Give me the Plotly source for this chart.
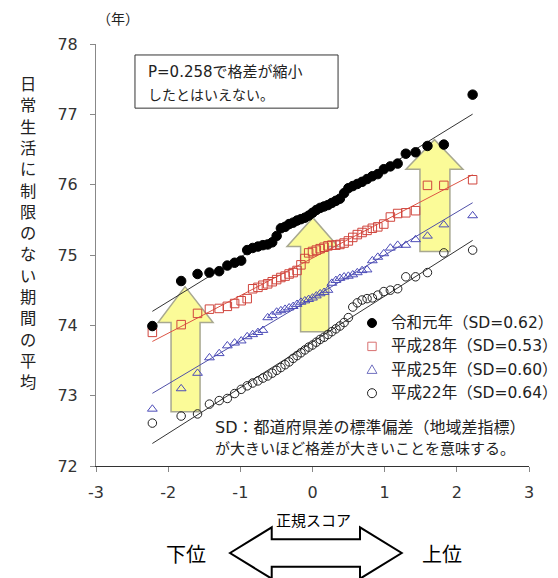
import numpy as np
import plotly.graph_objects as go

# normal scores (rank-based), shared by all four series
normal_score = [-2.219, -1.820, -1.593, -1.428, -1.293, -1.180, -1.079, -0.988, -0.905, -0.829,
                -0.756, -0.687, -0.621, -0.558, -0.497, -0.438, -0.380, -0.324, -0.268, -0.214,
                -0.160, -0.106, -0.053, 0.000, 0.053, 0.106, 0.160, 0.214, 0.268, 0.324,
                0.380, 0.438, 0.497, 0.558, 0.621, 0.687, 0.756, 0.829, 0.905, 0.988,
                1.079, 1.180, 1.293, 1.428, 1.593, 1.820, 2.219]

reiwa1 = [73.99, 74.63, 74.73, 74.75, 74.77, 74.85, 74.89, 74.92, 75.07, 75.10,
          75.12, 75.14, 75.15, 75.18, 75.27, 75.38, 75.40, 75.44, 75.46, 75.49,
          75.51, 75.53, 75.56, 75.60, 75.64, 75.67, 75.69, 75.71, 75.74, 75.77,
          75.80, 75.88, 75.95, 75.98, 76.01, 76.04, 76.08, 76.12, 76.15, 76.22,
          76.26, 76.30, 76.44, 76.46, 76.55, 76.57, 77.28]

heisei28 = [73.90, 74.01, 74.17, 74.23, 74.24, 74.27, 74.31, 74.35, 74.38, 74.52,
            74.54, 74.57, 74.59, 74.62, 74.65, 74.68, 74.70, 74.73, 74.75, 74.78,
            74.86, 74.95, 75.03, 75.05, 75.07, 75.09, 75.11, 75.13, 75.14, 75.14,
            75.15, 75.17, 75.20, 75.25, 75.29, 75.32, 75.35, 75.38, 75.40, 75.44,
            75.54, 75.59, 75.60, 75.63, 75.99, 75.99, 76.07]

heisei25 = [72.81, 73.10, 73.32, 73.54, 73.60, 73.71, 73.75, 73.78, 73.84, 73.87,
            73.90, 73.93, 74.11, 74.14, 74.19, 74.21, 74.23, 74.25, 74.27, 74.30,
            74.33, 74.35, 74.37, 74.39, 74.42, 74.45, 74.47, 74.50, 74.60, 74.64,
            74.67, 74.69, 74.70, 74.72, 74.75, 74.78, 74.79, 74.92, 74.97, 75.02,
            75.10, 75.14, 75.14, 75.22, 75.27, 75.43, 75.56]

heisei22 = [72.61, 72.71, 72.74, 72.88, 72.93, 72.96, 73.03, 73.09, 73.14, 73.18,
            73.21, 73.25, 73.28, 73.32, 73.36, 73.40, 73.44, 73.48, 73.53, 73.57,
            73.61, 73.65, 73.69, 73.72, 73.76, 73.80, 73.83, 73.87, 73.91, 73.95,
            73.99, 74.04, 74.11, 74.26, 74.32, 74.36, 74.38, 74.39, 74.43, 74.48,
            74.50, 74.52, 74.69, 74.69, 74.75, 75.03, 75.07]

series_names = ["令和元年（SD=0.62）", "平成28年（SD=0.53）", "平成25年（SD=0.60）", "平成22年（SD=0.64）"]
x_ticks = [-3, -2, -1, 0, 1, 2, 3]
x_tick_text = ["-3", "-2", "-1", "0", "1", "2", "3"]
y_ticks = [72, 73, 74, 75, 76, 77, 78]

JP = "DejaVu Sans, Noto Sans CJK JP"
JPO = "Noto Sans CJK JP"
NUM = "DejaVu Sans"

styles = [
    dict(values=reiwa1, name=series_names[0], symbol="circle", size=9.5, fill="#000000", edge="#000000", line="#333333"),
    dict(values=heisei28, name=series_names[1], symbol="square-open", size=8.5, fill="#D0453D", edge="#D0453D", line="#DD5545"),
    dict(values=heisei25, name=series_names[2], symbol="triangle-up-open", size=8.5, fill="#4B4BB8", edge="#4B4BB8", line="#5050A8"),
    dict(values=heisei22, name=series_names[3], symbol="circle-open", size=8.5, fill="#222222", edge="#222222", line="#333333"),
]

fig = go.Figure()

xs = np.array(normal_score)
# regression lines
for s in styles:
    ys = np.array(s["values"])
    b, a = np.polyfit(xs, ys, 1)
    lx = [xs.min(), xs.max()]
    fig.add_trace(go.Scatter(x=lx, y=[a + b * v for v in lx], mode="lines",
                             line=dict(color=s["line"], width=1), showlegend=False, hoverinfo="skip"))

# markers (drawn older first so 令和元年 is on top)
for s in reversed(styles):
    fig.add_trace(go.Scatter(x=normal_score, y=s["values"], mode="markers", name=s["name"],
                             showlegend=False,
                             marker=dict(symbol=s["symbol"], size=s["size"], color=s["fill"],
                                         line=dict(color=s["edge"], width=1))))

# yellow up-arrows (decoration)
def up_arrow(cx_l, cx_r, hx_l, hx_r, tipx, tipy, basey, bottom):
    return (f"M {cx_l} {bottom} L {cx_l} {basey} L {hx_l} {basey} L {tipx} {tipy} "
            f"L {hx_r} {basey} L {cx_r} {basey} L {cx_r} {bottom} Z")

arrows = [
    up_arrow(-1.96, -1.558, -2.14, -1.378, -1.766, 74.55, 74.04, 72.77),
    up_arrow(-0.165, 0.225, -0.353, 0.353, 0.005, 75.53, 75.12, 73.91),
    up_arrow(1.489, 1.904, 1.295, 2.084, 1.69, 76.64, 76.22, 75.05),
]
shapes = []
for p in arrows:
    shapes.append(dict(type="path", path=p, xref="x", yref="y", layer="below",
                       fillcolor="#FBFB98", line=dict(color="#A8A890", width=1.5)))

# pixel -> paper helper (plot area 96..529 x 44..466)
def px2p(px, py):
    return (px - 96) / 433, (466 - py) / 422

# text box
shapes.append(dict(type="rect", xref="paper", yref="paper", x0=0.090, x1=0.559, y0=0.848, y1=0.974,
                   line=dict(color="#333333", width=1), fillcolor="white", layer="above"))

# double arrow below axis (paper coords)
pts = [(230, 553), (271.7, 527.3), (271.7, 539.3), (360, 539.3), (360, 527.3), (401.7, 553),
       (360, 578.7), (360, 566.7), (271.7, 566.7), (271.7, 578.7)]
pp = [px2p(*q) for q in pts]
dpath = "M " + " L ".join(f"{a:.4f} {b:.4f}" for a, b in pp) + " Z"
shapes.append(dict(type="path", path=dpath, xref="paper", yref="paper",
                   line=dict(color="#000000", width=2), fillcolor="white"))

# custom legend symbols (paper coords)
def sym_path(kind, cx, cy, r):
    if kind == "square":
        pts_ = [(cx - r, cy - r), (cx + r, cy - r), (cx + r, cy + r), (cx - r, cy + r)]
    else:  # triangle
        pts_ = [(cx - r * 1.1, cy + r * 0.8), (cx + r * 1.1, cy + r * 0.8), (cx, cy - r * 1.1)]
    q = [px2p(*t) for t in pts_]
    return "M " + " L ".join(f"{a:.5f} {b:.5f}" for a, b in q) + " Z"

leg_x, leg_y0, leg_dy = 372, 323, 23.4
for i, s in enumerate(styles):
    cy = leg_y0 + leg_dy * i
    if s["symbol"] in ("circle", "circle-open"):
        x0, y0 = px2p(372 - 4.5, cy + 4.5)
        x1, y1 = px2p(372 + 4.5, cy - 4.5)
        shapes.append(dict(type="circle", xref="paper", yref="paper", x0=x0, y0=y0, x1=x1, y1=y1,
                           fillcolor=s["fill"] if s["symbol"] == "circle" else "white",
                           line=dict(color=s["edge"], width=1)))
    elif s["symbol"] == "square-open":
        shapes.append(dict(type="path", path=sym_path("square", leg_x, cy, 4.2), xref="paper", yref="paper",
                           fillcolor="white", line=dict(color="#D87070", width=1)))
    else:
        shapes.append(dict(type="path", path=sym_path("triangle", leg_x, cy, 4.5), xref="paper", yref="paper",
                           fillcolor="white", line=dict(color="#7070C0", width=1)))

annotations = []
def ann(px, py, text, size, xanchor="center", color="#222222", family=JP):
    xp, yp = px2p(px, py)
    annotations.append(dict(x=xp, y=yp, xref="paper", yref="paper", text=text, showarrow=False,
                            xanchor=xanchor, yanchor="middle", align="left",
                            font=dict(family=family, size=size, color=color)))

for i, s in enumerate(styles):
    ann(389, leg_y0 + leg_dy * i, s["name"], 15.5, xanchor="left")

ann(118, 18, "（年）", 14, family=JPO)
ann(146, 72, "P=0.258で格差が縮小", 15, xanchor="left")
ann(146, 95, "したとはいえない。", 14, xanchor="left")
ann(213, 427, "SD：都道府県差の標準偏差（地域差指標）", 16, xanchor="left")
ann(213, 449, "が大きいほど格差が大きいことを意味する。", 15, xanchor="left")
ann(313, 519, "正規スコア", 15, color="#000000", family=JPO)
ann(186, 553, "下位", 20, color="#000000", family=JPO)
ann(442, 553, "上位", 20, color="#000000", family=JPO)
for i, ch in enumerate("日常生活に制限のない期間の平均"):
    ann(28, 83 + 21.3 * i, ch, 16.3, family=JPO)

fig.update_layout(
    width=558, height=578,
    margin=dict(l=96, r=29, t=44, b=112),
    paper_bgcolor="white", plot_bgcolor="white",
    shapes=shapes, annotations=annotations,
    showlegend=False,
    xaxis=dict(range=[-3, 3], tickvals=x_ticks, ticktext=x_tick_text, ticks="outside", ticklen=5,
               tickcolor="#888888", ticklabelstandoff=7,
               showline=True, linecolor="#333333", linewidth=1, showgrid=False, zeroline=False,
               tickfont=dict(family=NUM, size=16, color="#333333")),
    yaxis=dict(range=[72, 78], tickvals=y_ticks, ticks="outside", ticklen=5, tickcolor="#888888",
               ticklabelstandoff=9,
               showline=True, linecolor="#888888", linewidth=1, showgrid=False, zeroline=False,
               tickfont=dict(family=NUM, size=16, color="#333333")),
)

fig.write_html("out.html")
